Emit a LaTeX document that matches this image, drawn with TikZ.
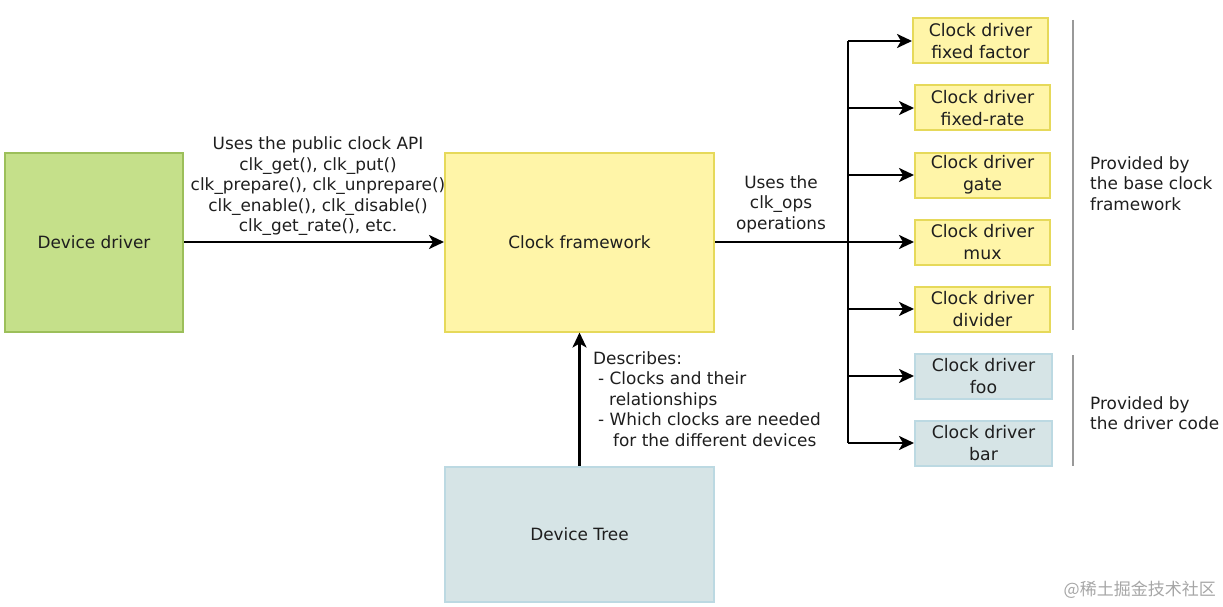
\documentclass[tikz,border=0pt]{standalone}
\usepackage{fontspec}
\setmainfont{DejaVu Sans}
\newfontfamily\cjk{Noto Sans CJK SC}
\usetikzlibrary{arrows.meta}
\definecolor{ddfill}{HTML}{C5E08A}
\definecolor{dddraw}{HTML}{9CBF5A}
\definecolor{cffill}{HTML}{FFF5A8}
\definecolor{cfdraw}{HTML}{E6D95A}
\definecolor{dtfill}{HTML}{D6E4E6}
\definecolor{dtdraw}{HTML}{BCD9E2}
\definecolor{txt}{HTML}{1E1E1E}
\begin{document}
\begin{tikzpicture}[x=1pt,y=-1pt,
  every node/.style={text=txt,font=\fontsize{16.9}{20.6}\selectfont},
  bigbox/.style={draw,line width=2pt,inner sep=0pt},
  ybox/.style={draw=cfdraw,fill=cffill,line width=2pt,minimum width=135,minimum height=45,inner sep=0pt,align=center,font=\fontsize{17.3}{22}\selectfont},
  bbox/.style={draw=dtdraw,fill=dtfill,line width=2pt,minimum width=137,minimum height=45,inner sep=0pt,align=center,font=\fontsize{17.3}{22}\selectfont},
  conn/.style={line width=2.6pt,-{Stealth[length=15pt,width=14pt,inset=4pt]}},
  sep/.style={draw=gray!80,line width=1.5pt}]
\useasboundingbox (0,0) rectangle (1223,607);
\node[bigbox,draw=dddraw,fill=ddfill,minimum width=178,minimum height=179] (dd) at (94,242) {Device driver};
\node[bigbox,draw=cfdraw,fill=cffill,minimum width=269,minimum height=179] (cf) at (579.5,242) {Clock framework};
\node[bigbox,draw=dtdraw,fill=dtfill,minimum width=269,minimum height=135] (dt) at (579.5,534) {Device Tree};
\draw[conn] (dd.east) -- (cf.west);
\node[align=center,anchor=south,inner sep=0pt] (api) at (318,236) {Uses the public clock API\\clk\_get(), clk\_put()\\clk\_prepare(), clk\_unprepare()\\clk\_enable(), clk\_disable()\\clk\_get\_rate(), etc.};
\draw[conn] (dt.north) -- (cf.south);
\node[align=left,anchor=north west,inner sep=0pt] (desc) at (593,351) {Describes:\\\hspace*{5pt}- Clocks and their\\\hspace*{16pt}relationships\\\hspace*{5pt}- Which clocks are needed\\\hspace*{20pt}for the different devices};
\node[ybox] (c1) at (980.5,41) {Clock driver\\fixed factor};
\node[ybox] (c2) at (982.5,108) {Clock driver\\fixed-rate};
\node[ybox] (c3) at (982.5,175) {Clock driver\\gate};
\node[ybox] (c4) at (982.5,242) {Clock driver\\mux};
\node[ybox] (c5) at (982.5,309) {Clock driver\\divider};
\node[bbox] (c6) at (983.5,376) {Clock driver\\foo};
\node[bbox] (c7) at (983.5,443) {Clock driver\\bar};
\coordinate (top) at (848,41);
\coordinate (bot) at (848,443);
\coordinate (mid) at (848,242);
\draw[line width=2.6pt] (cf.east) -- (mid);
\draw[line width=2.6pt] (top) -- (bot);
\foreach \i/\y in {1/41,2/108,3/175,4/242,5/309,6/376,7/443}{
  \draw[conn] (848,\y) -- (c\i.west);
}
\node[align=center,anchor=south,inner sep=0pt] (ops) at (781,233) {Uses the\\clk\_ops\\operations};
\coordinate (s1a) at (1073,20);
\coordinate (s1b) at (1073,330);
\coordinate (s2a) at (1073,355);
\coordinate (s2b) at (1073,466);
\draw[sep] (s1a) -- (s1b);
\draw[sep] (s2a) -- (s2b);
\node[align=left,anchor=north west,inner sep=0pt] (p1) at (1090,156) {Provided by\\the base clock\\framework};
\node[align=left,anchor=north west,inner sep=0pt] (p2) at (1090,396) {Provided by\\the driver code};
\node[anchor=east,inner sep=0pt,text=gray!70,font=\cjk\fontsize{17}{20}\selectfont] (wm) at (1216,590) {@稀土掘金技术社区};
\end{tikzpicture}
\end{document}
